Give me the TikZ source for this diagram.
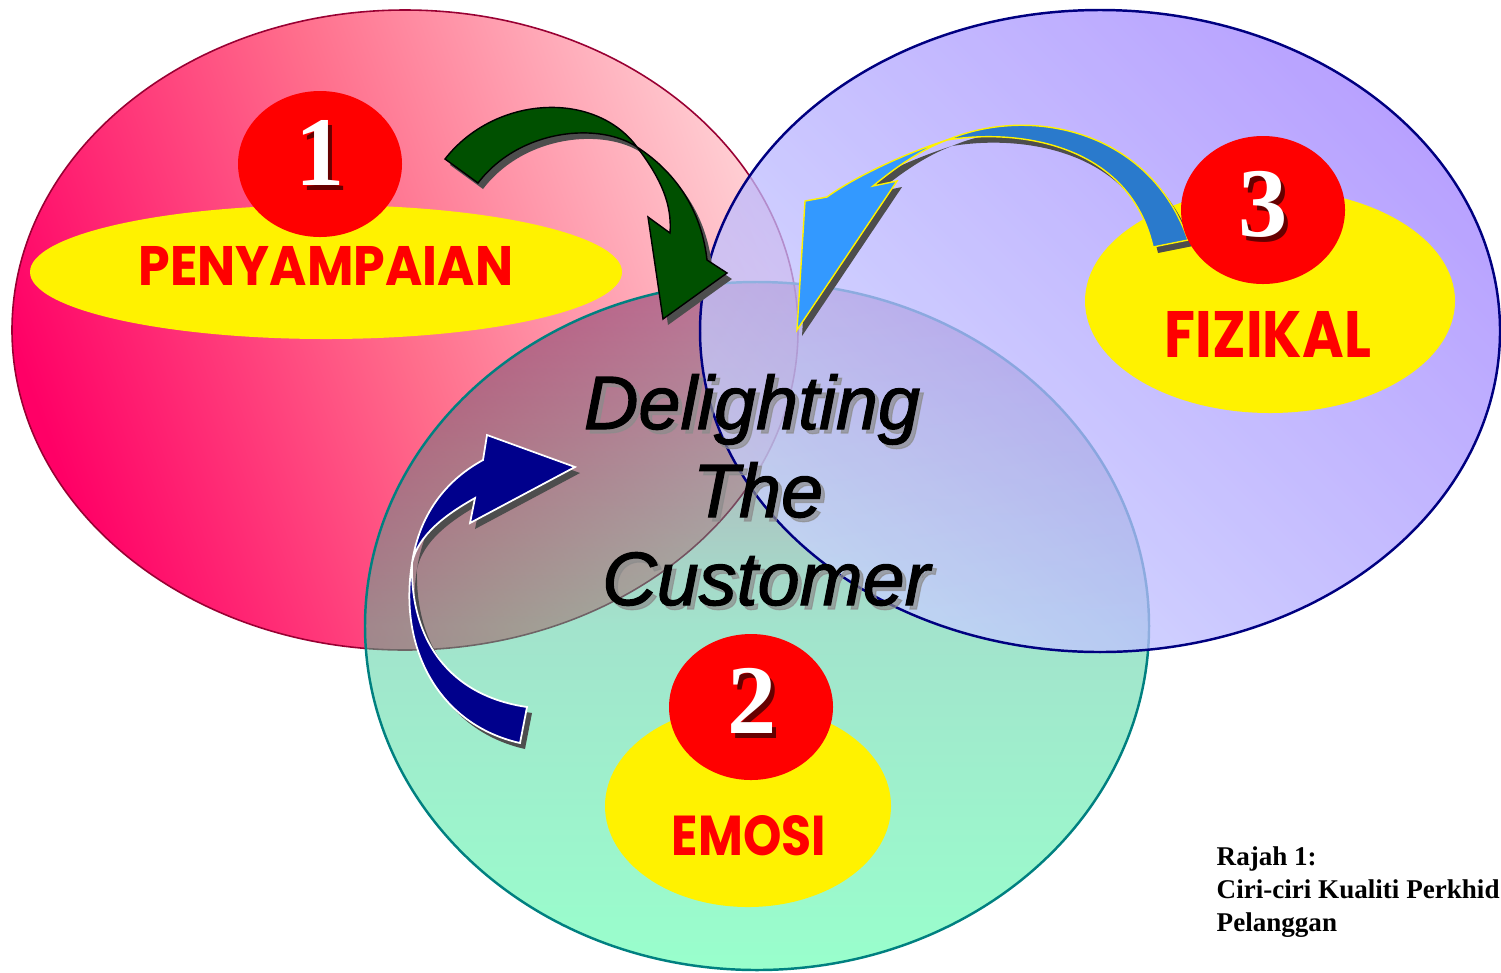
\documentclass[tikz,border=0pt]{standalone}
\usepackage{fontspec}
\setmainfont{Liberation Serif}
\newfontfamily\delightfont{Liberation Sans}[FakeBold=1.5]
\newfontfamily\lblfont{Poppins}
\usepackage{graphicx}

\definecolor{pinkdeep}{RGB}{255,0,102}
\definecolor{pinkmid}{RGB}{255,110,140}
\definecolor{pinklight}{RGB}{255,205,210}
\definecolor{ringred}{RGB}{153,0,51}
\definecolor{greentop}{RGB}{120,40,100}
\definecolor{greenmid}{RGB}{70,200,154}
\definecolor{greenbot}{RGB}{51,255,153}
\definecolor{ringteal}{RGB}{0,128,128}
\definecolor{bluetop}{RGB}{160,130,255}
\definecolor{bluebot}{RGB}{200,210,255}
\definecolor{ringnavy}{RGB}{0,0,128}
\definecolor{shadegray}{RGB}{77,77,77}
\definecolor{arrowgreen}{RGB}{0,80,0}
\definecolor{bluelight}{RGB}{51,153,255}
\definecolor{bluedark}{RGB}{42,122,204}
\definecolor{arrownavy}{RGB}{0,0,140}

% outlines of the curved block arrows
\newcommand\arrowpenyampaian{(445,159) .. controls (495,95) and (595,90) .. (637,147) .. controls (662,180) and (672,205) .. (670,233) -- (648,217) -- (663,319) -- (727,273) -- (707,260) .. controls (702,215) and (680,175) .. (637,147) .. controls (600,122) and (520,128) .. (478,183) -- cycle}
\newcommand\arrowfizikalback{(1188,240) .. controls (1150,130) and (1030,105) .. (947,140) .. controls (1020,128) and (1130,145) .. (1153,247) -- cycle}
\newcommand\arrowfizikalfront{(947,140) .. controls (900,155) and (850,180) .. (827,197) -- (805,201) -- (797,330) -- (897,181) -- (873,186) .. controls (895,168) and (920,150) .. (947,140) -- cycle}
\newcommand\arrowemosi{(520,743) .. controls (440,725) and (398,650) .. (412,563) .. controls (420,510) and (450,478) .. (483,460) -- (487,435) -- (575,467) -- (470,523) -- (475,498) .. controls (445,515) and (418,535) .. (412,563) .. controls (410,635) and (445,695) .. (527,707) -- cycle}

\begin{document}
\begin{tikzpicture}[x=0.01cm, y=-0.01cm,
    ring/.style={line width=0.7pt},
    numdisc/.style={fill=red},
    labeldisc/.style={fill=yellow},
    numtext/.style={inner sep=0pt, anchor=base, text=white, font=\fontsize{28}{30}\selectfont\bfseries},
    numshade/.style={numtext, text=black, text opacity=0.6},
    lbltext/.style={inner sep=0pt, anchor=base, text=red, font=\lblfont\bfseries},
    delight/.style={inner sep=0pt, anchor=base, font=\delightfont\itshape\fontsize{21.5}{25}\selectfont},
    delightshade/.style={delight, text=black!45, text opacity=0.7},
    arrowshade/.style={fill=shadegray, shift={(5,6)}},
  ]
  \useasboundingbox (0,0) rectangle (1501,972);

  % the three rings
  \shadedraw[ring, draw=ringred, line width=0.45pt, top color=pinklight, bottom color=pinkdeep, middle color=pinkmid, shading angle=-70] (405,330) ellipse [x radius=393, y radius=320];
  \fill[labeldisc] (326,272) ellipse [x radius=296, y radius=67];
  \shadedraw[ring, draw=ringteal, fill opacity=0.5, top color=greentop, bottom color=greenbot, middle color=greenmid] (757,626) ellipse [x radius=392, y radius=344];
  \shadedraw[ring, draw=ringnavy, fill opacity=0.75, top color=bluetop, bottom color=bluebot, shading angle=-45] (1100,331) ellipse [x radius=400, y radius=321];
  \fill[labeldisc] (1270,301) ellipse [x radius=185, y radius=112];
  \fill[labeldisc] (748,806) ellipse [x radius=143, y radius=101];

  % arrows
  \fill[arrowshade] \arrowpenyampaian;
  \filldraw[fill=arrowgreen, draw=black, line width=0.4pt] \arrowpenyampaian;
  \fill[arrowshade] \arrowfizikalback;
  \fill[arrowshade] \arrowfizikalfront;
  \filldraw[fill=bluedark, draw=yellow, line width=0.4pt] \arrowfizikalback;
  \filldraw[fill=bluelight, draw=yellow, line width=0.4pt] \arrowfizikalfront;
  \fill[arrowshade] \arrowemosi;
  \filldraw[fill=arrownavy, draw=white, line width=0.5pt] \arrowemosi;

  % numbered discs
  \fill[numdisc] (320,164) ellipse [x radius=82, y radius=73];
  \fill[numdisc] (1263,210) ellipse [x radius=82, y radius=74];
  \fill[numdisc] (751,707) ellipse [x radius=82, y radius=73];

  \node[numshade] (oneshade) at (324,190) {1};
  \node[numtext] (one) at (320,185) {1};
  \node[numshade] (twoshade) at (756,738) {2};
  \node[numtext] (two) at (752,733) {2};
  \node[numshade] (threeshade) at (1267,241) {3};
  \node[numtext] (three) at (1263,236) {3};

  \node[lbltext] (penyampaian) at (326,285) {\resizebox{3.74cm}{0.39cm}{PENYAMPAIAN}};
  \node[lbltext] (fizikal) at (1268,357) {\resizebox{2.06cm}{0.46cm}{FIZIKAL}};
  \node[lbltext] (emosi) at (749,855) {\resizebox{1.54cm}{0.40cm}{EMOSI}};

  % centre text
  \node[delightshade] (delightashade) at (756,433) {Delighting};
  \node[delightshade] (delightbshade) at (762,521) {The};
  \node[delightshade] (delightcshade) at (770,609) {Customer};
  \node[delight] (delighta) at (752,429) {Delighting};
  \node[delight] (delightb) at (758,517) {The};
  \node[delight] (delightc) at (766,605) {Customer};

  \node[anchor=north west, inner sep=0pt, align=left, font=\fontsize{7.7}{9.4}\selectfont\bfseries] (caption) at (1216,846) {Rajah 1:\\Ciri-ciri Kualiti Perkhid\\Pelanggan};
\end{tikzpicture}
\end{document}
